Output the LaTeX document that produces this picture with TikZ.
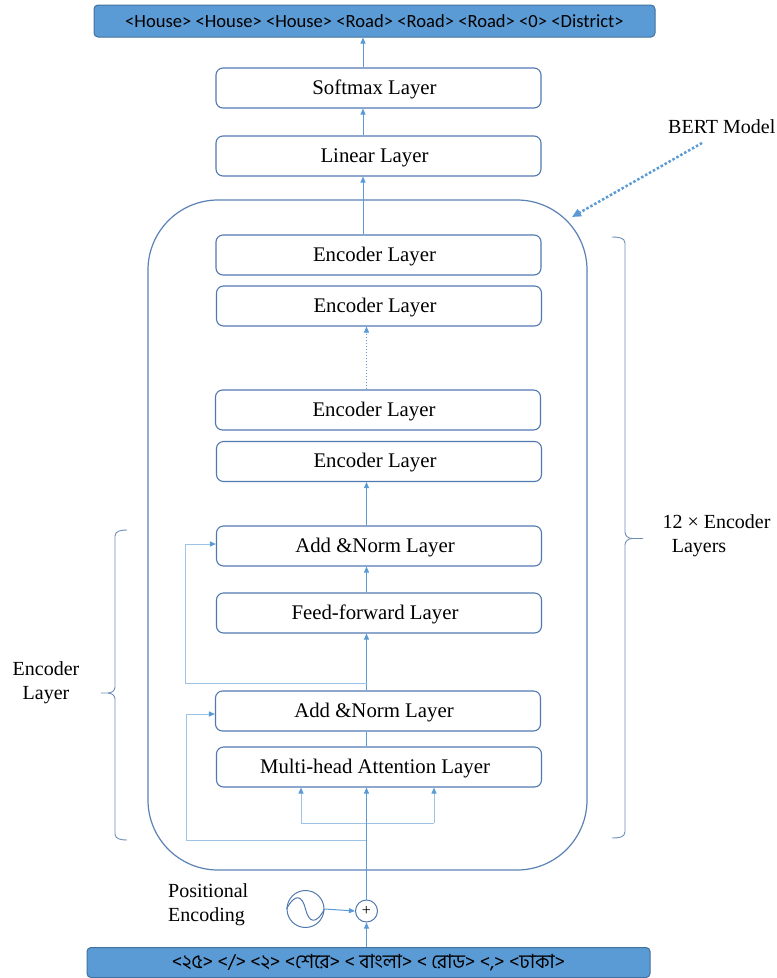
\documentclass[tikz,border=0pt]{standalone}
\usepackage{fontspec}
\setmainfont{Liberation Serif}
\newfontfamily\barfont{Carlito}
\newfontfamily\bnfont[Script=Bengali]{Hind Siliguri}
\usetikzlibrary{arrows.meta}
\definecolor{boxc}{HTML}{5079B0}
\definecolor{contc}{HTML}{5B82B5}
\definecolor{mainc}{HTML}{5B9BD5}
\definecolor{resc}{HTML}{9DC3E6}
\definecolor{barfill}{HTML}{5B9BD5}
\definecolor{bardraw}{HTML}{41719C}
\definecolor{bracec}{HTML}{6E8DB8}
\tikzset{
 layerbox/.style={draw=boxc, line width=1.1pt, rounded corners=7pt, minimum width=325pt, minimum height=40pt, inner sep=0pt, text height=16.5pt, text depth=4.5pt, font=\fontsize{20.8}{24}\selectfont, execute at end node=\hspace*{8pt}},
 bar/.style={draw=bardraw, fill=barfill, line width=1pt, rounded corners=4pt, inner sep=0pt},
 arr/.style={draw=mainc, line width=1pt, -{Triangle[length=6pt,width=5pt]}},
 resarr/.style={draw=resc, line width=1pt, -{Triangle[length=6pt,width=5pt,color=mainc,fill=mainc]}},
 res/.style={draw=resc, line width=1pt},
 plainline/.style={draw=mainc, line width=1pt},
 lbl/.style={font=\fontsize{20}{24}\selectfont, inner sep=0pt},
 bracestyle/.style={draw=bracec, line width=0.9pt},
}
\begin{document}
\begin{tikzpicture}[x=1pt,y=-1pt]
\useasboundingbox (0,0) rectangle (777,978);
% output bar
\node[bar, minimum width=561pt, minimum height=32pt, font=\barfont\fontsize{18.6}{22}\selectfont] (out) at (374.5,21) {<House> <House> <House> <Road> <Road> <Road> <0> <District>};
% top layers
\node[layerbox] (soft) at (378.5,88) {Softmax Layer};
\node[layerbox] (lin) at (378.5,156) {Linear Layer};
% BERT container
\node[draw=contc, line width=1.2pt, rounded corners=70pt, minimum width=439pt, minimum height=670pt, inner sep=0pt] (bert) at (367.5,535) {};
% encoder stack
\node[layerbox] (enc1) at (378.5,255) {Encoder Layer};
\node[layerbox] (enc2) at (379,306) {Encoder Layer};
\node[layerbox] (enc3) at (378,410) {Encoder Layer};
\node[layerbox] (enc4) at (379,461.5) {Encoder Layer};
\node[layerbox] (an1) at (379,546) {Add \&Norm Layer};
\node[layerbox] (ff) at (379,613) {Feed-forward Layer};
\node[layerbox] (an2) at (378,711) {Add \&Norm Layer};
\node[layerbox] (mh) at (379,767) {Multi-head Attention Layer};
% input bar
\node[bar, minimum width=563pt, minimum height=30pt, font=\bnfont\fontsize{19.5}{22}\selectfont] (inp) at (368.5,962.5) {<২৫> </> <২> <শেরে> < বাংলা> < রোড> <,> <ঢাকা>};
% positional encoding
\node[draw=boxc, line width=1pt, circle, minimum size=37pt, inner sep=0pt] (sine) at (305.5,909) {};
\draw[boxc, line width=1pt] (sine.west) .. controls (295,893) and (302,895) .. (sine.center) .. controls (309,923) and (316,925) .. (sine.east);
\node[draw=boxc, line width=1pt, circle, minimum size=22pt, inner sep=0pt, font=\fontsize{16}{16}\selectfont] (plus) at (366.5,911) {+};
\node[lbl, anchor=west, align=left] (pe) at (168,905) {Positional\\Encoding};
% coordinates for arrow columns
\coordinate (xa) at (363,0);
\coordinate (xb) at (366.5,0);
% arrows top
\draw[arr] (soft.north -| xa) -- (out.south -| xa);
\draw[arr] (lin.north -| xa) -- (soft.south -| xa);
\draw[arr] (enc1.north -| xa) -- (lin.south -| xa);
\draw[arr, dotted, line width=0.8pt] (enc3.north -| xb) -- (enc2.south -| xb);
\draw[arr] (an1.north -| xb) -- (enc4.south -| xb);
\draw[arr] (ff.north -| xb) -- (an1.south -| xb);
\draw[arr] (an2.north -| xb) -- (ff.south -| xb);
\draw[plainline] (mh.north -| xb) -- (an2.south -| xb);
% residuals
\coordinate (r1) at (366.5,683);
\coordinate (r2) at (366.5,840);
\draw[resarr] (r1) -- (185,683) |- ([yshift=2pt]an1.west);
\draw[resarr] (r2) -- (186,840) |- ([yshift=-3pt]an2.west);
% q k v
\coordinate (qk) at (301,823);
\coordinate (qv) at (434,823);
\draw[res] (qk) -- (qv);
\draw[resarr] (qk) -- (mh.south -| qk);
\draw[resarr] (qv) -- (mh.south -| qv);
% main input line
\draw[arr] (plus.north) -- (mh.south -| plus);
\draw[arr] (sine.east) -- (plus.west);
\draw[arr] (inp.north -| plus) -- (plus.south);
% BERT label
\node[lbl, anchor=west] (bm) at (668,127) {BERT Model};
\coordinate (bs) at (702,143);
\coordinate (be) at (572,217);
\draw[mainc, line width=2.5pt, dotted, -{Triangle[length=9pt,width=8pt]}] (bs) -- (be);
% right brace
\draw[bracestyle] (612,237) to[out=0,in=90] (625,243) -- (625,532) to[out=-90,in=180] (632,538.5) -- (643,538.5);
\draw[bracestyle] (632,538.5) to[out=180,in=90] (625,545) -- (625,832) to[out=-90,in=0] (612,838);
\node[lbl] (twelve) at (716.5,522) {12 × Encoder};
\node[lbl] (layers) at (699,548) {Layers};
% left brace
\draw[bracestyle] (127,530) to[out=180,in=90] (115,536) -- (115,687) to[out=-90,in=0] (108,693) -- (101,693);
\draw[bracestyle] (108,693) to[out=0,in=90] (115,699) -- (115,834) to[out=-90,in=180] (127,840);
\node[lbl, align=center] (encl) at (46,683) {Encoder\\Layer};
\end{tikzpicture}
\end{document}
